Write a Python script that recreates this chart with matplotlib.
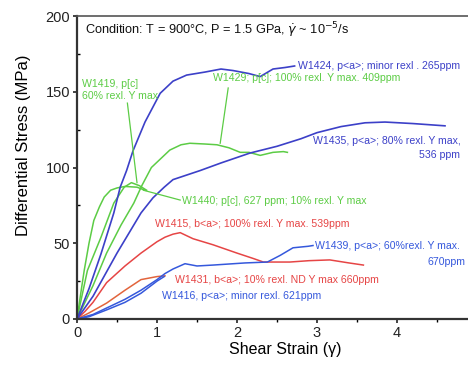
import matplotlib
matplotlib.use("Agg")
import matplotlib.pyplot as plt
from matplotlib.ticker import MultipleLocator

plt.rcParams['font.family'] = ['Liberation Sans', 'DejaVu Sans']

# curves: shear strain (x) and differential stress in MPa (y)
w1424_x = [0, 0.15, 0.3, 0.46, 0.54, 0.62, 0.7, 0.85, 1.04, 1.2, 1.37, 1.6, 1.8, 1.95, 2.15, 2.29, 2.45, 2.6, 2.72]
w1424_y = [0, 20, 43, 70, 87, 98, 111, 130, 149, 157, 161, 163, 165, 164, 162, 160, 165, 166, 167]

w1435_x = [0, 0.2, 0.5, 0.8, 0.95, 1.09, 1.2, 1.54, 1.8, 2.16, 2.5, 2.8, 3.0, 3.3, 3.6, 3.85, 4.2, 4.6]
w1435_y = [0, 15, 43.5, 70, 80, 87, 92, 98, 103, 109.5, 114, 119, 123, 127, 129.5, 130, 129, 127.5]

w1429_x = [0, 0.2, 0.37, 0.55, 0.71, 0.81, 0.93, 1.05, 1.16, 1.3, 1.41, 1.6, 1.75, 1.9, 2.04, 2.15, 2.29, 2.45, 2.58, 2.63]
w1429_y = [0, 22, 43.5, 62, 76.5, 88, 100, 106, 111.5, 115, 116, 115.5, 115, 113, 110, 110, 108, 110, 110.5, 110]

w1440_x = [0, 0.05, 0.09, 0.15, 0.21, 0.28, 0.34, 0.42, 0.5, 0.6, 0.75, 0.85]
w1440_y = [0, 18, 32, 50, 65, 74, 80.5, 85, 86.5, 87.5, 87, 85]

w1419_x = [0, 0.13, 0.3, 0.46, 0.59, 0.68, 0.78, 0.87]
w1419_y = [0, 32, 54, 76.5, 87, 90, 88, 85]

w1415_x = [0, 0.1, 0.2, 0.37, 0.6, 0.8, 1.0, 1.1, 1.2, 1.29, 1.45, 1.7, 2.0, 2.2, 2.33, 2.66, 2.9, 3.16, 3.4, 3.58]
w1415_y = [0, 5, 11, 24, 35, 43.5, 51, 54, 56, 57, 53, 49, 43.5, 40, 37.6, 37.6, 38.5, 39, 37, 35.6]

w1431_x = [0, 0.15, 0.37, 0.6, 0.8, 1.0, 1.1]
w1431_y = [0, 4, 10.5, 19, 26, 28, 28.5]

w1416_x = [0, 0.15, 0.37, 0.6, 0.8, 1.0, 1.09]
w1416_y = [0, 1.5, 6, 11, 17, 25, 28]

w1439_x = [0, 0.2, 0.4, 0.6, 0.8, 1.0, 1.1, 1.2, 1.35, 1.5, 1.7, 2.1, 2.38, 2.54, 2.7, 2.89, 2.95]
w1439_y = [0, 3, 8, 13, 19, 26, 30, 33, 36.5, 35, 35.6, 37, 37.6, 42, 47, 48, 48.5]

blue = '#3c40c8'
blue2 = '#3558dc'
green = '#5ccc45'
red = '#e64545'
orange = '#e2643c'

fig = plt.figure(figsize=(4.68, 3.66), dpi=100)
ax = fig.add_axes([77 / 468, 47 / 366, 400 / 468, 303 / 366])

ax.plot(w1440_x, w1440_y, color=green, lw=1.1)
ax.plot(w1419_x, w1419_y, color=green, lw=1.1)
ax.plot(w1429_x, w1429_y, color=green, lw=1.1)
ax.plot(w1415_x, w1415_y, color=red, lw=1.1)
ax.plot(w1431_x, w1431_y, color=orange, lw=1.1)
ax.plot(w1416_x, w1416_y, color=blue2, lw=1.1)
ax.plot(w1439_x, w1439_y, color=blue2, lw=1.1)
ax.plot(w1435_x, w1435_y, color=blue, lw=1.2)
ax.plot(w1424_x, w1424_y, color=blue, lw=1.2)

# leader lines from labels to curves
ax.plot([0.63, 0.75], [142.5, 90], color=green, lw=0.9)
ax.plot([1.89, 1.79], [152.5, 116], color=green, lw=0.9)
ax.plot([0.83, 1.29], [85, 78.5], color=green, lw=0.9)

fs = 7.6
ax.text(0.1, 190.5, 'Condition: T = 900°C, P = 1.5 GPa, $\\dot{\\gamma}$ ~ 10$^{-5}$/s',
        fontsize=9.2, va='center', ha='left', color='#111111')
ax.text(2.76, 167, 'W1424, p<a>; minor rexl . 265ppm', color=blue, fontsize=fs, va='center')
ax.text(0.06, 155, 'W1419, p[c]', color=green, fontsize=fs, va='center')
ax.text(0.06, 147.5, '60% rexl. Y max', color=green, fontsize=fs, va='center')
ax.text(1.7, 159, 'W1429; p[c]; 100% rexl. Y max. 409ppm', color=green, fontsize=fs, va='center')
ax.text(2.95, 117.5, 'W1435, p<a>; 80% rexl. Y max,', color=blue, fontsize=fs, va='center')
ax.text(4.79, 108, '536 ppm', color=blue, fontsize=fs, va='center', ha='right')
ax.text(1.31, 78, 'W1440; p[c], 627 ppm; 10% rexl. Y max', color=green, fontsize=fs, va='center')
ax.text(0.975, 62.5, 'W1415, b<a>; 100% rexl. Y max. 539ppm', color=red, fontsize=fs, va='center')
ax.text(2.98, 48, 'W1439, p<a>; 60%rexl. Y max.', color=blue2, fontsize=fs, va='center')
ax.text(4.85, 37.6, '670ppm', color=blue2, fontsize=fs, va='center', ha='right')
ax.text(1.22, 25.5, 'W1431, b<a>; 10% rexl. ND Y max 660ppm', color=red, fontsize=fs, va='center')
ax.text(1.06, 15, 'W1416, p<a>; minor rexl. 621ppm', color=blue2, fontsize=fs, va='center')

ax.set_xlim(0, 5)
ax.set_ylim(0, 200)
ax.xaxis.set_major_locator(MultipleLocator(1))
ax.xaxis.set_minor_locator(MultipleLocator(0.5))
ax.yaxis.set_major_locator(MultipleLocator(50))
ax.yaxis.set_minor_locator(MultipleLocator(25))
ax.set_xticks([0, 1, 2, 3, 4])
ax.tick_params(axis='both', which='major', direction='out', length=3, width=1.2,
               labelsize=10.5, pad=2, colors='#222222')
ax.tick_params(axis='x', which='minor', direction='out', length=2, width=1)
ax.tick_params(axis='y', which='minor', direction='in', length=2, width=1)

for side in ['left', 'bottom']:
    ax.spines[side].set_linewidth(1.6)
    ax.spines[side].set_color('#333333')
ax.spines['top'].set_linewidth(1.2)
ax.spines['top'].set_color('#555555')

ax.set_xlabel('Shear Strain (\u03b3)', fontsize=11.5)
ax.set_ylabel('Differential Stress (MPa)', fontsize=12)
ax.xaxis.set_label_coords(0.52, -0.075)
ax.yaxis.set_label_coords(-0.115, 0.575)

fig.savefig('out.png', dpi=100)
